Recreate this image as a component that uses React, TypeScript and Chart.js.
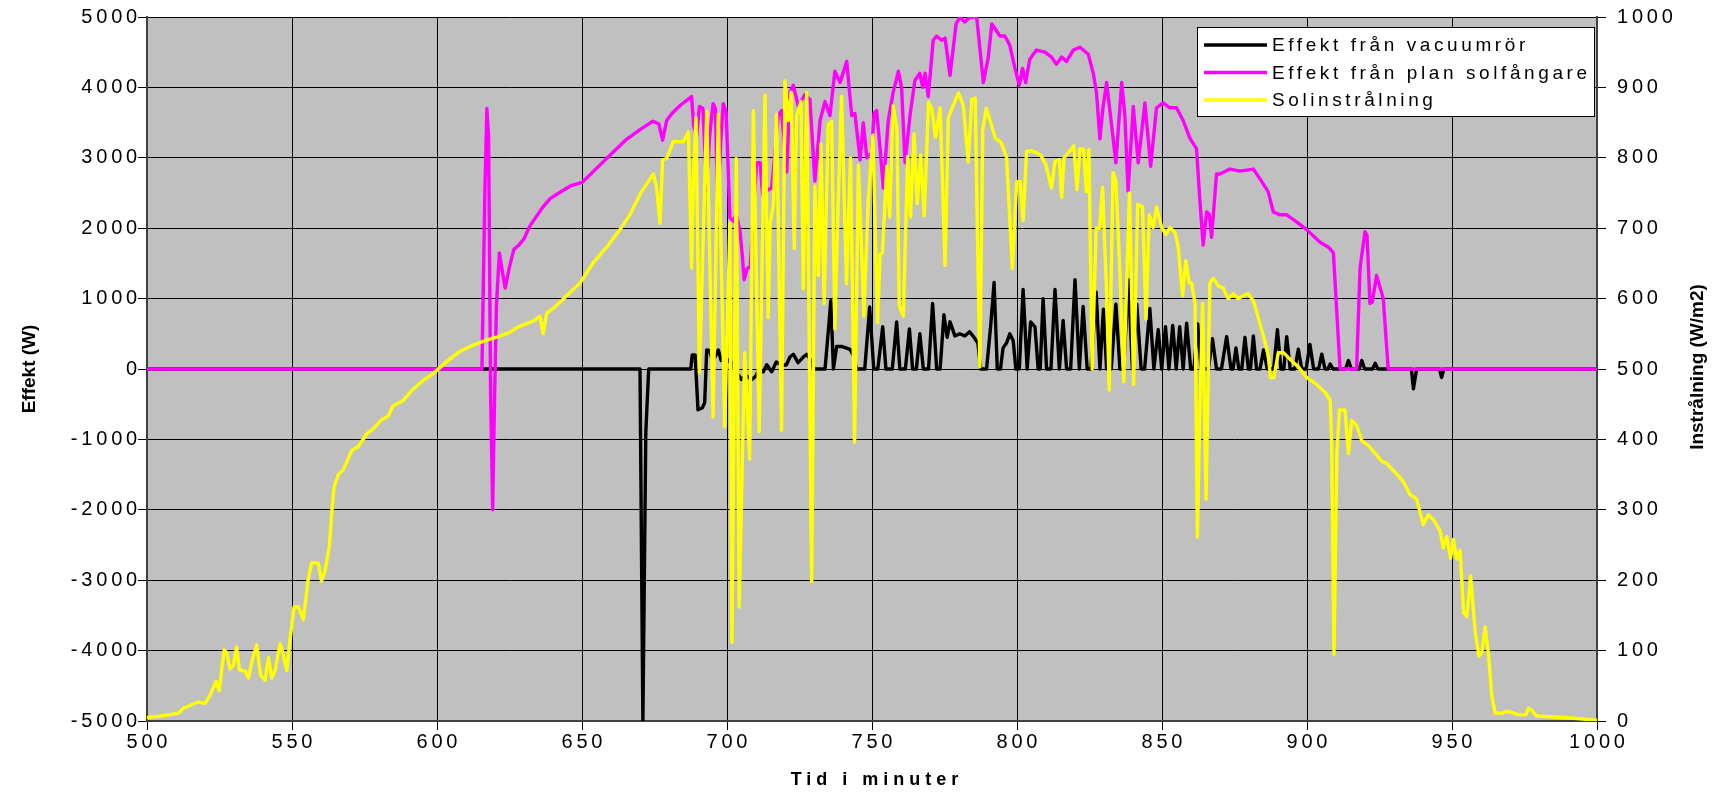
import React, { useEffect, useRef } from "react";
import { Chart, registerables } from "chart.js";

Chart.register(...registerables);

// ---- Data ----
const seriesLabels = ["Effekt från vacuumrör", "Effekt från plan solfångare", "Solinstrålning"];
const xTitle = "Tid i minuter";
const leftTitle = "Effekt (W)";
const rightTitle = "Instrålning (W/m2)";

const vacuumMinutes = [500,670,671,672,673,687.5,688,689,690,691.5,692.3,693,694,695,696,697,698,699,700,701,702.5,703.5,705,706.5,708.5,710,711,712.5,713.7,715.4,717,719,720.5,721.7,722.9,724.5,726.3,727.5,728.6,729.8,733.8,735,735.8,736.7,737.8,739.5,741,742.4,743.5,744.7,747.5,749.2,750.6,752,753.7,754.8,757,758.5,759.6,761.5,762.9,764,765.3,766.5,767.7,769.5,770.9,772.3,773.5,774.8,775.9,776.9,778.6,780.3,782,783.6,785,786.5,787.5,789.5,790.9,792.1,793.2,794.3,795.2,796.4,797.5,798.7,799.6,800.8,802.1,803.5,804.7,806.2,807.3,808,809,810.2,811.7,813.1,814.6,815.9,817.1,818.5,820,821.5,822.8,824.2,825.5,827.3,828.6,829.8,830.9,832.5,834.1,835.5,836.8,838.4,839.8,841.3,842.8,844,845.8,847.2,848.7,849.9,851.2,852.4,853.7,854.9,856.1,857.3,858.5,859.9,861,862.3,863.5,866,867.4,868.8,870.5,872.3,873.8,874.5,875.5,876.5,877.5,878.6,879.8,880.5,881.5,882.6,883.8,885,886.3,888.5,889.8,891,892,893,894.2,895.8,897,898.2,899.7,901,902.3,904,905.1,906.2,907.2,908,909,913.3,914.3,915.3,918,918.9,919.9,922.6,923.5,924.5,936,936.7,937.8,945.7,946.4,947.2,1000];
const vacuumPower = [0,0,-5000,-900,0,0,200,200,-580,-550,-480,270,260,120,180,270,120,200,100,140,0,-60,-150,-90,-150,-100,0,-40,60,-40,100,50,60,170,210,90,170,210,140,0,0,570,970,0,320,320,300,280,200,0,0,880,0,0,600,0,0,670,0,0,570,0,0,500,0,0,930,0,0,770,450,670,470,500,470,530,460,370,0,0,600,1230,0,0,300,370,500,400,0,0,1130,0,670,600,0,0,1000,0,0,1130,0,690,0,0,1270,0,890,0,0,1090,0,850,0,0,920,0,0,1270,0,920,0,0,860,0,560,0,600,0,620,0,600,0,650,0,0,640,0,0,430,0,0,460,0,0,300,0,0,450,0,0,470,0,0,270,0,0,560,0,0,460,0,0,280,0,0,350,0,0,210,0,0,70,0,0,120,0,0,120,0,0,80,0,0,-280,0,0,-120,0,0];

const planMinutes = [500,615.5,616.5,617.2,617.8,618.5,619.2,619.8,620.5,621.5,622.5,623.5,625,626.5,628,630,632,634,636.5,639,642,646,650,655,660,665,670,674.5,676.5,677.8,679.2,681,684,687.8,688.5,689.5,690.5,691.7,693,694,695.2,696,696.8,697.8,698.7,699.7,701,702.2,703.2,704.5,705.2,705.9,707,708,709,710.2,711.4,712.3,713.5,715.4,717.7,718.8,720.6,721.7,722.9,724.6,726.9,728.6,730.3,732.1,733.8,735.5,737.2,739,741.3,743,744.1,745.9,747,748.2,749.9,750.7,751.6,752.8,753.9,755.6,757.3,759.1,760.2,761.4,763.1,764.8,766.5,767.5,768.3,769.4,771.1,772.3,774,775.2,776.9,779,780.3,782,783.8,786.1,788.4,790.1,791.3,793,794.1,795.8,797.5,799.3,800.8,801.9,803,804.4,806.7,809.6,811.9,813.6,815.4,817.1,819.4,821.7,824.6,826.3,827.4,828.6,829.7,830.9,832.6,834.1,836.1,837.2,838.3,840.1,841.8,844.1,846.1,848.1,850.4,852.7,855,857.3,859.6,861.9,863.1,864.2,865.4,866.3,867.1,868.8,870,873.4,876.9,881.5,883.8,886.6,888.4,890.7,893,896.4,899.9,904.5,907.4,909.1,911.4,917.1,918.3,920,920.7,921.7,922.5,924,926.3,928,1000];
const planPower = [0,0,2500,3700,3300,-400,-2000,-500,900,1650,1400,1150,1450,1700,1750,1850,2030,2150,2300,2420,2500,2600,2650,2850,3050,3250,3400,3520,3480,3250,3530,3630,3750,3870,3450,3300,3730,3700,2550,3300,3770,3700,2250,3200,3770,3650,2150,2100,2200,1950,1650,1270,1430,1450,2100,2930,2930,2470,2530,2570,3600,3670,2800,3930,4030,3730,3900,3830,2670,3530,3800,3600,4230,4070,4370,3600,3630,2970,3500,3000,3070,3630,3670,3130,2570,3530,3930,4230,4000,2930,3600,4100,4200,4000,4200,3870,4670,4730,4670,4700,4170,4900,5000,4930,5000,5000,4070,4430,4900,4800,4730,4730,4600,4270,4030,4270,4070,4400,4530,4500,4430,4330,4430,4370,4530,4570,4470,4200,3930,3270,3730,4070,3470,2930,4070,3600,2530,3730,2930,3780,2880,3710,3780,3710,3710,3530,3280,3130,2370,1760,2230,2200,1870,2770,2770,2840,2810,2840,2700,2520,2230,2190,2190,2090,1980,1800,1730,1650,0,0,1440,1950,1900,930,950,1330,1000,0,0];

const solMinutes = [500,504.5,510.8,512.5,514.8,517.7,520,521.7,523.8,524.9,526.6,527.5,528.6,529.8,530.9,531.9,533.8,535,536.1,537.8,539.2,540.7,541.9,543,544.2,545.9,547,548.2,549.3,550.7,552.2,553.9,555.6,556.8,559.1,560.2,561.4,562.9,563.7,564.5,566,567.7,570.6,572.9,575.8,578,580.9,583.2,584.9,588.3,591.2,595.3,598.2,601,604.4,607.9,612.5,617.1,621.1,625.1,628.6,633.2,635.5,636.6,637.8,641.2,644.7,649.3,653.9,658.5,663.1,666.5,670,672.3,674.6,675.7,676.9,677.8,679.2,681.5,685,686.7,687.8,688.4,689.3,690.5,693,695.2,697,699.2,701,701.7,703.2,704.2,706.1,707.8,709.1,711.1,713.1,714.2,714.9,716,717.1,718.8,720,721.1,722.1,723.2,724,725.5,726.3,727.5,729.2,730.3,731.5,732.4,733.5,734.9,736.1,737.2,738.4,739.5,741.2,742.6,744,745.3,746.5,747.2,748.7,750.3,751.9,752.8,753.6,755.1,756.1,757.3,758.6,759.4,760.8,762.3,763.3,764.5,765.6,766.8,768,769.5,770.6,771.9,773.5,775.2,776.3,778,779.8,781.5,783.2,784.4,785.6,786.4,787.2,788.2,789.4,791.1,792.5,794.5,796.4,798.4,799.9,801.1,802.1,803.3,805,806.7,808.3,810,811.9,813.1,814.6,815.4,816.2,818.3,819.6,820.7,821.7,823,823.9,824.8,825.9,827.3,828.5,829.5,830.9,831.8,833.1,834.1,835.5,836.8,837.8,838.8,840.2,841.6,843.3,844.5,845.6,847,848.1,849.9,851.4,852.7,854.5,855.6,857.1,858.2,859.4,860.2,861.4,862.2,863.1,864,865.2,866.5,867.7,869.4,871.1,872.8,874.6,876.3,878,879.7,881.5,883.2,884.9,886.6,887.4,888.6,890.1,892,894.1,897,899.9,903.3,906.2,908,908.5,909.3,910.3,911.2,913.1,914.3,915.4,917.1,918.9,921.2,923.5,925.8,927.5,929.2,930.9,933.2,935.5,937.8,940.1,941.8,943.6,945.9,947,948.2,949.5,950.5,951.6,952.8,954,955.1,956.4,958,959.3,960.3,961.4,962.6,963.7,964.9,967.2,968.9,972.9,975.5,976.4,977.3,979.2,983.8,991.9,1000];
const solIrradiance = [5,7,11,18,22,27,25,36,56,43,101,97,74,79,105,72,71,61,83,108,65,58,90,61,72,110,94,72,114,162,162,144,202,225,224,199,213,249,296,332,350,357,384,390,408,415,428,433,448,455,469,484,492,502,514,525,534,541,546,552,561,568,575,550,579,590,604,622,651,673,698,719,748,763,777,759,707,797,799,823,823,837,643,773,857,495,866,432,862,418,707,112,799,162,523,372,867,411,889,573,707,733,862,413,909,853,893,671,860,880,614,893,198,760,633,820,593,847,852,557,747,887,621,800,396,790,660,575,740,832,566,663,665,788,716,874,840,590,575,802,716,834,735,804,718,879,870,829,871,647,857,874,892,874,794,883,885,680,503,840,870,848,828,822,801,643,766,766,711,809,810,807,803,790,757,795,797,744,800,810,817,755,813,812,752,812,500,700,700,758,608,470,779,767,637,482,622,750,478,734,730,571,719,701,730,701,691,701,694,673,604,654,622,622,593,261,449,593,315,622,629,618,615,600,607,600,604,607,597,573,548,521,488,488,523,523,514,503,488,478,467,456,398,95,380,442,442,380,427,420,398,391,380,369,366,358,351,340,322,315,279,293,286,270,246,262,231,258,230,242,154,148,206,127,92,97,134,94,36,11,11,14,9,9,18,16,7,6,4,1];

const powerMin = -5000;
const powerMax = 5000;
const powerStep = 1000;
const irrMin = 0;
const irrMax = 1000;
const irrStep = 100;
const timeMin = 500;
const timeMax = 1000;
const timeStep = 50;

const seriesColors = ["#000000", "#FF00FF", "#FFFF00"];

const TICK_SPACING = 3.8;
const FONT = '"Liberation Sans", Arial, sans-serif';

function pts(xs: number[], ys: number[]) {
  return xs.map((x, i) => ({ x, y: ys[i] }));
}

const decorPlugin = {
  id: "decor",
  beforeUpdate(chart: any) {
    chart.ctx.letterSpacing = TICK_SPACING + "px";
  },
  beforeDraw(chart: any) {
    const { ctx, chartArea: a } = chart;
    ctx.save();
    ctx.fillStyle = "#C0C0C0";
    ctx.fillRect(a.left, a.top, a.right - a.left, a.bottom - a.top);
    ctx.restore();
    ctx.letterSpacing = TICK_SPACING + "px";
  },
  afterDraw(chart: any) {
    const { ctx, chartArea: a } = chart;
    const midY = (a.top + a.bottom) / 2;
    // axis titles
    ctx.save();
    ctx.fillStyle = "#000";
    ctx.letterSpacing = "0px";
    ctx.font = "bold 19px " + FONT;
    ctx.textAlign = "center";
    ctx.textBaseline = "middle";
    ctx.save();
    ctx.translate(30, midY);
    ctx.rotate(-Math.PI / 2);
    ctx.fillText(leftTitle, 0, 0);
    ctx.restore();
    ctx.save();
    ctx.translate(1698, midY - 2);
    ctx.rotate(-Math.PI / 2);
    ctx.fillText(rightTitle, 0, 0);
    ctx.restore();
    ctx.letterSpacing = "5px";
    ctx.font = "bold 18px " + FONT;
    ctx.fillText(xTitle, (a.left + a.right) / 2 + 5, 780);
    ctx.restore();

    // legend
    const lx = 1197, ly = 27, lw = 397, lh = 89;
    ctx.save();
    ctx.fillStyle = "#FFFFFF";
    ctx.fillRect(lx, ly, lw, lh);
    ctx.strokeStyle = "#000";
    ctx.lineWidth = 1;
    ctx.strokeRect(lx + 0.5, ly + 0.5, lw, lh);
    ctx.font = "19px " + FONT;
    ctx.letterSpacing = "3.6px";
    ctx.textAlign = "left";
    ctx.textBaseline = "middle";
    const rows = [45, 72.5, 100];
    chart.data.datasets.forEach((ds: any, i: number) => {
      const y = rows[i];
      ctx.strokeStyle = ds.borderColor;
      ctx.lineWidth = 3.4;
      ctx.beginPath();
      ctx.moveTo(1204, y);
      ctx.lineTo(1267, y);
      ctx.stroke();
      ctx.fillStyle = "#000";
      ctx.fillText(ds.label, 1272, y + 1);
    });
    ctx.restore();
  },
};

export default function App() {
  const ref = useRef<HTMLCanvasElement | null>(null);
  useEffect(() => {
    if (!ref.current) return;
    const gridColor = "#000000";
    const tickFont = { family: FONT, size: 20 };
    const lw = 3.4;
    const common = {
      borderWidth: lw,
      pointRadius: 0,
      tension: 0,
      borderJoinStyle: "round",
      borderCapStyle: "round",
    };
    const chart = new Chart(ref.current, {
      type: "line",
      data: {
        datasets: [
          {
            ...common,
            label: seriesLabels[0],
            data: pts(vacuumMinutes, vacuumPower),
            borderColor: seriesColors[0],
            backgroundColor: seriesColors[0],
            yAxisID: "y",
            order: 3,
          },
          {
            ...common,
            label: seriesLabels[1],
            data: pts(planMinutes, planPower),
            borderColor: seriesColors[1],
            backgroundColor: seriesColors[1],
            yAxisID: "y",
            order: 2,
          },
          {
            ...common,
            label: seriesLabels[2],
            data: pts(solMinutes, solIrradiance),
            borderColor: seriesColors[2],
            backgroundColor: seriesColors[2],
            yAxisID: "y2",
            order: 1,
          },
        ],
      },
      options: {
        animation: false,
        responsive: false,
        devicePixelRatio: 1,
        events: [],
        layout: { padding: { top: 17, left: 0, right: 0, bottom: 0 } },
        plugins: {
          legend: { display: false },
          tooltip: { enabled: false },
          title: { display: false },
        },
        scales: {
          x: {
            type: "linear",
            min: timeMin,
            max: timeMax,
            ticks: {
              stepSize: timeStep,
              autoSkip: false,
              maxRotation: 0,
              color: "#000",
              font: tickFont,
              padding: 0,
              labelOffset: TICK_SPACING / 2,
              callback: (v: any) => String(v),
            },
            grid: { color: gridColor, lineWidth: 1, tickLength: 9, drawTicks: true },
            border: { color: "#404040", width: 2 },
            afterFit: (s: any) => {
              s.height = 73;
              s.paddingLeft = 0;
              s.paddingRight = 0;
            },
          },
          y: {
            type: "linear",
            position: "left",
            min: powerMin,
            max: powerMax,
            ticks: {
              stepSize: powerStep,
              color: "#000",
              font: tickFont,
              padding: -3,
              callback: (v: any) => String(v),
            },
            grid: { color: gridColor, lineWidth: 1, tickLength: 9, drawTicks: true },
            border: { color: "#404040", width: 2 },
            afterFit: (s: any) => {
              s.width = 147;
              s.paddingTop = 0;
              s.paddingBottom = 0;
            },
          },
          y2: {
            type: "linear",
            position: "right",
            min: irrMin,
            max: irrMax,
            ticks: {
              stepSize: irrStep,
              color: "#000",
              font: tickFont,
              padding: 11,
              callback: (v: any) => String(v),
            },
            grid: { color: gridColor, lineWidth: 1, tickLength: 9, drawTicks: true, drawOnChartArea: false },
            border: { color: "#404040", width: 2 },
            afterFit: (s: any) => {
              s.width = 123;
              s.paddingTop = 0;
              s.paddingBottom = 0;
            },
          },
        },
      },
      plugins: [decorPlugin],
    } as any);
    return () => chart.destroy();
  }, []);
  return (
    <div style={{ position: "fixed", left: 0, top: 0, width: 1720, height: 794, background: "#fff" }}>
      <canvas ref={ref} width={1720} height={794} style={{ display: "block" }} />
    </div>
  );
}
